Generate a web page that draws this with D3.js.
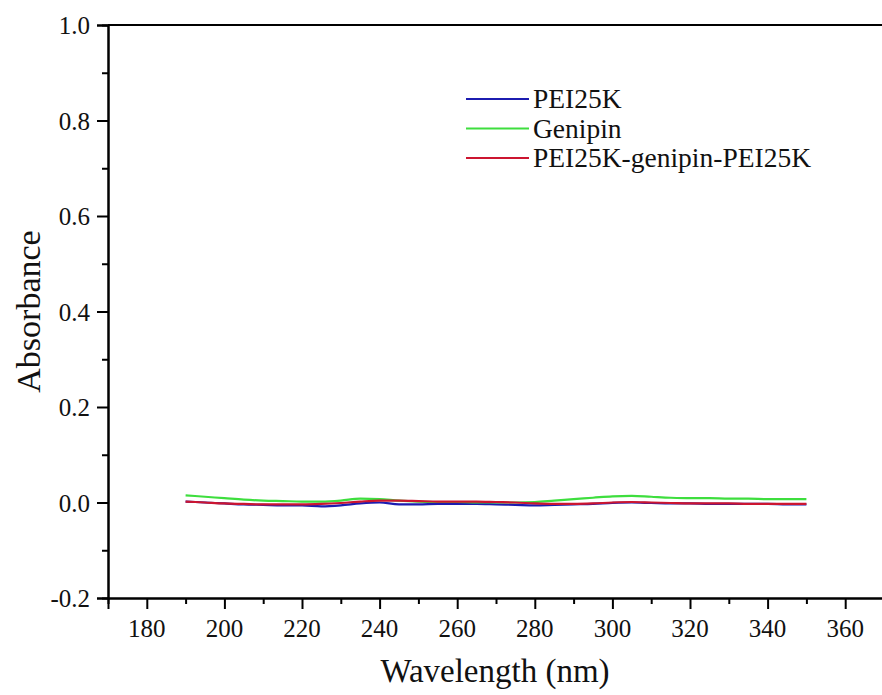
<!DOCTYPE html>
<html>
<head>
<meta charset="utf-8">
<script src="https://cdn.jsdelivr.net/npm/d3@7"></script>
<style>
  body { margin: 0; background: #fff; }
  svg { display: block; font-family: "Liberation Serif", "Times New Roman", serif; }
  .axis path, .axis line { stroke: #000; stroke-width: 2; }
  .tick-label { font-size: 25px; fill: #111; }
</style>
</head>
<body>
<div id="chart"></div>
<script>
const width = 882
const height = 695
const margins = ({ top: 25, right: -2, bottom: 97, left: 108 })

// wavelength (nm) sample points
const wavelengths = [190, 195, 200, 205, 210, 215, 220, 225, 230, 235, 240, 245, 250, 255, 260, 265, 270, 275, 280, 285, 290, 295, 300, 305, 310, 315, 320, 325, 330, 335, 340, 345, 350]

const pei25k = [0.002, 0.0, -0.002, -0.004, -0.005, -0.006, -0.006, -0.008, -0.006, -0.002, 0.0, -0.004, -0.004, -0.003, -0.003, -0.003, -0.004, -0.005, -0.006, -0.005, -0.004, -0.003, -0.001, 0.0, -0.001, -0.002, -0.002, -0.003, -0.003, -0.003, -0.003, -0.004, -0.004]
const genipin = [0.015, 0.012, 0.009, 0.006, 0.004, 0.003, 0.002, 0.002, 0.004, 0.008, 0.007, 0.004, 0.002, 0.001, 0.001, 0.0, 0.0, 0.0, 0.001, 0.004, 0.007, 0.010, 0.013, 0.014, 0.012, 0.010, 0.009, 0.009, 0.008, 0.008, 0.007, 0.007, 0.007]
const crosslinked = [0.002, 0.0, -0.002, -0.003, -0.004, -0.004, -0.004, -0.003, -0.001, 0.002, 0.004, 0.004, 0.003, 0.002, 0.002, 0.002, 0.001, 0.0, -0.002, -0.003, -0.003, -0.002, 0.0, 0.001, 0.0, -0.001, -0.002, -0.002, -0.002, -0.003, -0.003, -0.003, -0.003]

const seriesNames = ["PEI25K", "Genipin", "PEI25K-genipin-PEI25K"]
const seriesColors = ["#1c1cb0", "#3ede3e", "#cc1530"]
const seriesValues = [pei25k, genipin, crosslinked]

const xTicks = [180, 200, 220, 240, 260, 280, 300, 320, 340, 360]
const yTicks = [-0.2, 0.0, 0.2, 0.4, 0.6, 0.8, 1.0]
const yTickLabels = ["-0.2", "0.0", "0.2", "0.4", "0.6", "0.8", "1.0"]

const svg = d3.select("#chart")
    .append("svg")
    .attr("width", width)
    .attr("height", height)

const x = d3.scaleLinear()
    .domain([170, 370])
    .range([margins.left, width - margins.right])
const y = d3.scaleLinear()
    .domain([-0.2, 1.0])
    .range([height - margins.bottom, margins.top])

// minor ticks first, majors drawn over them (labels drawn separately below)
svg.append("g")
    .attr("class", "axis")
    .attr("transform", `translate(0,${height - margins.bottom})`)
    .call(d3.axisBottom(x).tickValues(d3.range(190, 370, 20)).tickSize(6).tickFormat(""))
svg.append("g")
    .attr("class", "axis")
    .attr("transform", `translate(0,${height - margins.bottom})`)
    .call(d3.axisBottom(x).tickValues(xTicks).tickSize(11).tickFormat(""))

svg.append("g")
    .attr("class", "axis")
    .attr("transform", `translate(${margins.left},0)`)
    .call(d3.axisLeft(y).tickValues([-0.1, 0.1, 0.3, 0.5, 0.7, 0.9]).tickSize(6).tickFormat(""))
svg.append("g")
    .attr("class", "axis")
    .attr("transform", `translate(${margins.left},0)`)
    .call(d3.axisLeft(y).tickValues(yTicks).tickSize(11).tickFormat(""))

svg.selectAll(".axis .domain").attr("d", function () {
    return d3.select(this).attr("d").replace(/V-?\d+(\.\d+)?V/, "V").replace(/H-?\d+(\.\d+)?H/, "H")
})

svg.selectAll(".x-label")
    .data(xTicks)
    .join("text")
    .attr("class", "tick-label")
    .attr("text-anchor", "middle")
    .attr("x", d => x(d))
    .attr("y", height - margins.bottom + 39)
    .text(d => d)

svg.selectAll(".y-label")
    .data(yTicks)
    .join("text")
    .attr("class", "tick-label")
    .attr("text-anchor", "end")
    .attr("x", margins.left - 18)
    .attr("y", d => y(d) + 9)
    .text((d, i) => yTickLabels[i])

// top frame line
svg.append("line")
    .attr("x1", margins.left)
    .attr("x2", width)
    .attr("y1", y(1.0))
    .attr("y2", y(1.0))
    .attr("stroke", "#000")
    .attr("stroke-width", 2)

const line = d3.line()
    .x((d, i) => x(wavelengths[i]))
    .y(d => y(d))
    .curve(d3.curveMonotoneX)

seriesValues.forEach((values, i) => {
    svg.append("path")
        .datum(values)
        .attr("fill", "none")
        .attr("stroke", seriesColors[i])
        .attr("stroke-width", 2.2)
        .attr("stroke-linejoin", "round")
        .attr("d", line)
})

// legend
const legend = svg.append("g").attr("transform", "translate(466,99)")
seriesNames.forEach((name, i) => {
    legend.append("line")
        .attr("x1", 0)
        .attr("x2", 63)
        .attr("y1", i * 29.5)
        .attr("y2", i * 29.5)
        .attr("stroke", seriesColors[i])
        .attr("stroke-width", 2.2)
    legend.append("text")
        .attr("x", 67)
        .attr("y", i * 29.5 + 9)
        .style("font-size", "27.5px")
        .attr("fill", "#111")
        .text(name)
})

svg.append("text")
    .text("Wavelength (nm)")
    .style("text-anchor", "middle")
    .style("font-size", "33px")
    .attr("fill", "#111")
    .attr("x", (margins.left + width) / 2)
    .attr("y", 682)

svg.append("text")
    .text("Absorbance")
    .style("text-anchor", "middle")
    .style("font-size", "34px")
    .attr("fill", "#111")
    .attr("transform", "rotate(-90)")
    .attr("x", -(margins.top + height - margins.bottom) / 2)
    .attr("y", 40)
</script>
</body>
</html>
